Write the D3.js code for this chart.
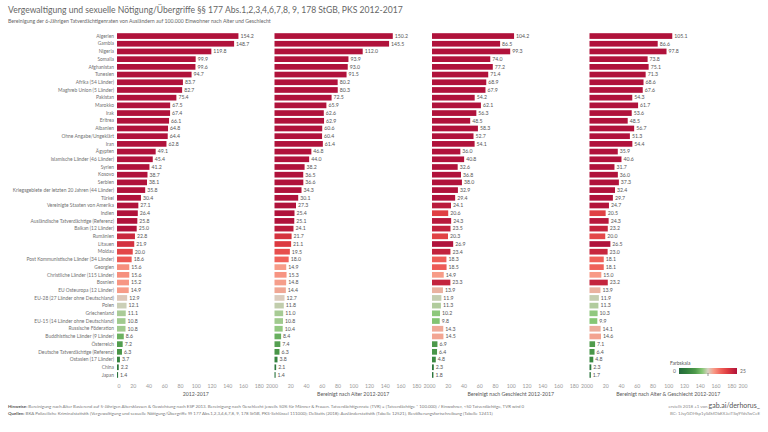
<!DOCTYPE html>
<html><head><meta charset="utf-8">
<script src="https://cdn.jsdelivr.net/npm/d3@7"></script>
<style>body{margin:0;background:#fff;}svg{display:block;font-family:Lato,"Open Sans",sans-serif;}</style>
</head><body><svg id="c" width="768" height="432"></svg>
<script>
const categories = ["Algerien","Gambia","Nigeria","Somalia","Afghanistan","Tunesien","Afrika (54 Länder)","Maghreb Union (5 Länder)","Pakistan","Marokko","Irak","Eritrea","Albanien","Ohne Angabe/Ungeklärt","Iran","Ägypten","Islamische Länder (46 Länder)","Syrien","Kosovo","Serbien","Kriegsgebiete der letzten 20 Jahren (44 Länder)","Türkei","Vereinigte Staaten von Amerika","Indien","Ausländische Tatverdächtige (Referenz)","Balkan (12 Länder)","Rumänien","Litauen","Moldau","Post Kommunistische Länder (34 Länder)","Georgien","Christliche Länder (115 Länder)","Bosnien","EU Osteuropa (12 Länder)","EU-28 (27 Länder ohne Deutschland)","Polen","Griechenland","EU-15 (14 Länder ohne Deutschland)","Russische Föderation","Buddhistische Länder (9 Länder)","Österreich","Deutsche Tatverdächtige (Referenz)","Ostasien (17 Länder)","China","Japan"];
const raw2012_2017 = [154.2,148.7,119.8,99.9,99.6,94.7,83.7,82.7,75.4,67.5,67.4,66.1,64.8,64.4,62.8,49.1,45.4,41.2,38.7,38.1,35.8,30.4,27.1,26.4,25.8,25.0,22.8,21.9,20.0,18.6,15.6,15.6,15.2,14.9,12.9,12.1,11.1,10.8,10.8,8.6,7.2,6.3,3.7,2.2,1.4];
const ageAdjusted = [150.2,145.5,112.0,93.9,93.0,91.5,80.2,80.3,72.5,65.9,62.6,62.9,60.6,60.4,61.4,46.8,44.0,38.2,36.5,36.6,34.3,30.1,27.3,25.4,25.1,24.1,21.7,21.1,19.5,18.0,14.9,15.3,14.8,14.4,12.7,11.8,11.0,10.8,10.4,8.4,7.4,6.3,3.8,2.1,1.4];
const sexAdjusted = [104.2,86.5,99.3,74.0,77.2,71.4,68.9,67.9,54.2,62.1,56.3,48.5,58.3,52.7,54.1,36.0,40.8,32.6,36.8,38.0,32.9,29.4,24.1,20.6,24.3,23.5,20.3,26.9,23.4,18.3,18.5,14.9,23.3,13.9,11.9,11.3,10.2,9.8,14.3,14.5,6.9,6.4,4.8,2.3,1.8];
const ageSexAdjusted = [105.1,86.6,97.8,73.8,75.1,71.3,68.6,67.6,54.3,61.7,53.6,48.5,56.7,51.3,54.4,35.9,40.6,31.7,36.0,37.3,32.4,29.7,24.7,20.5,24.3,23.2,20.0,26.5,23.0,18.1,18.1,15.0,23.2,13.9,11.9,11.3,10.3,9.9,14.1,14.6,7.1,6.4,4.8,2.3,1.7];
const panelTitles = ["2012-2017","Bereinigt nach Alter 2012-2017","Bereinigt nach Geschlecht 2012-2017","Bereinigt nach Alter & Geschlecht 2012-2017"];
const tickValues = [0,20,40,60,80,100,120,140,160,180,200];
const colorStops = [0,3,7,10,12.5,15,18,21,25];
const colorRange = ["#24693d","#2f7d3c","#4e9a4b","#86c775","#d8d0c2","#f89a86","#f0625a","#dd3a40","#b0123b"];

const svg = d3.select("#c");
const series = [raw2012_2017, ageAdjusted, sexAdjusted, ageSexAdjusted];
const color = d3.scaleLinear().domain(colorStops).range(colorRange).clamp(true);

// Title
svg.append("text").attr("x",8).attr("y",13).attr("font-size",8.6).attr("fill","#666")
  .text("Vergewaltigung und sexuelle Nötigung/Übergriffe §§ 177 Abs.1,2,3,4,6,7,8, 9, 178 StGB, PKS 2012-2017");
svg.append("text").attr("x",8).attr("y",23).attr("font-size",5.2).attr("fill","#666")
  .text("Bereinigung der 6-Jährigen Tatverdächtigenraten von Ausländern auf 100.000 Einwohner nach Alter und Geschlecht");

const y = d3.scaleBand().domain(categories).range([32.2, 378.8]).paddingInner(0.26).paddingOuter(0.13);
const panelX0 = [117, 274.5, 432, 589.5];
const panelW = 157.5;

// category labels
svg.append("g").selectAll("text").data(categories).join("text")
  .attr("x",114).attr("y",d=>y(d)+y.bandwidth()/2).attr("dy","0.35em")
  .attr("text-anchor","end").attr("font-size",4.9).attr("fill","#707070").text(d=>d);

series.forEach((vals,i)=>{
  const x = d3.scaleLinear().domain([0,200]).range([panelX0[i], panelX0[i]+panelW]);
  const g = svg.append("g");
  g.selectAll("rect").data(vals).join("rect")
    .attr("x",x(0)).attr("y",(d,j)=>y(categories[j]))
    .attr("width",d=>x(d)-x(0)).attr("height",y.bandwidth())
    .attr("fill",d=>color(d));
  g.selectAll("text.v").data(vals).join("text").attr("class","v")
    .attr("x",d=>x(d)+2).attr("y",(d,j)=>y(categories[j])+y.bandwidth()/2).attr("dy","0.35em")
    .attr("font-size",5.2).attr("fill","#555").text(d=>d.toFixed(1));
  const ax = g.append("g").attr("transform","translate(0,384)")
    .call(d3.axisBottom(x).tickValues(tickValues).tickSize(0).tickPadding(0));
  ax.select(".domain").remove();
  ax.selectAll("text").attr("font-size",5.2).attr("fill","#999").attr("font-family","Lato,'Open Sans',sans-serif")
    .attr("text-anchor",d=>d===0?"start":(d===200?"end":"middle"));
  g.append("text").attr("x",panelX0[i]+panelW/2).attr("y",396).attr("text-anchor","middle")
    .attr("font-size",5.2).attr("fill","#555").text(panelTitles[i]);
});

// Legend
const lg = svg.append("g");
lg.append("text").attr("x",670).attr("y",365).attr("font-size",5).attr("fill","#555").text("Farbskala");
const defs = svg.append("defs");
const grad = defs.append("linearGradient").attr("id","lgrad");
colorStops.forEach((s,k)=>grad.append("stop").attr("offset",(s/25*100)+"%").attr("stop-color",colorRange[k]));
lg.append("rect").attr("x",679).attr("y",368).attr("width",58).attr("height",6).attr("fill","url(#lgrad)");
lg.append("line").attr("x1",708).attr("x2",708).attr("y1",373).attr("y2",376).attr("stroke","#555").attr("stroke-width",0.6);
lg.append("text").attr("x",676).attr("y",373).attr("text-anchor","end").attr("font-size",5).attr("fill","#666").text("0");
lg.append("text").attr("x",740).attr("y",373).attr("font-size",5).attr("fill","#666").text("25");

// Footer
const f1 = svg.append("text").attr("x",8).attr("y",408).attr("font-size",4.4).attr("fill","#777");
f1.append("tspan").attr("font-weight","bold").attr("fill","#555").text("Hinweise: ");
f1.append("tspan").text("Bereinigung nach Alter Basierend auf 5-Jährigen Altersklassen & Gewichtung nach ESP 2013. Bereinigung nach Geschlecht jeweils 50% für Männer & Frauen. Tatverdächtigenrate (TVR) = (Tatverdächtige * 100.000) / Einwohner, <50 Tatverdächtige, TVR wird 0");
const f2 = svg.append("text").attr("x",8).attr("y",414.5).attr("font-size",4.4).attr("fill","#777");
f2.append("tspan").attr("font-weight","bold").attr("fill","#555").text("Quellen: ");
f2.append("tspan").text("BKA Polizeiliche Kriminalstatistik (Vergewaltigung und sexuelle Nötigung/Übergriffe §§ 177 Abs.1,2,3,4,6,7,8, 9, 178 StGB, PKS-Schlüssel 111000); DeStatis (2018): Ausländerstatistik (Tabelle 12521), Bevölkerungsfortschreibung (Tabelle 12411)");
const f3 = svg.append("text").attr("x",760).attr("y",408).attr("text-anchor","end").attr("font-size",4.4).attr("fill","#888");
f3.append("tspan").text("erstellt 2018 +1 von ");
f3.append("tspan").attr("font-size",7).attr("fill","#555").text("gab.ai/derhorus_");
svg.append("text").attr("x",760).attr("y",414.5).attr("text-anchor","end").attr("font-size",4.4).attr("fill","#888")
  .text("BC: 1JsyGDHkp1yS4kfDbEXJeiTSq9YdsTwCeE");
</script></body></html>
